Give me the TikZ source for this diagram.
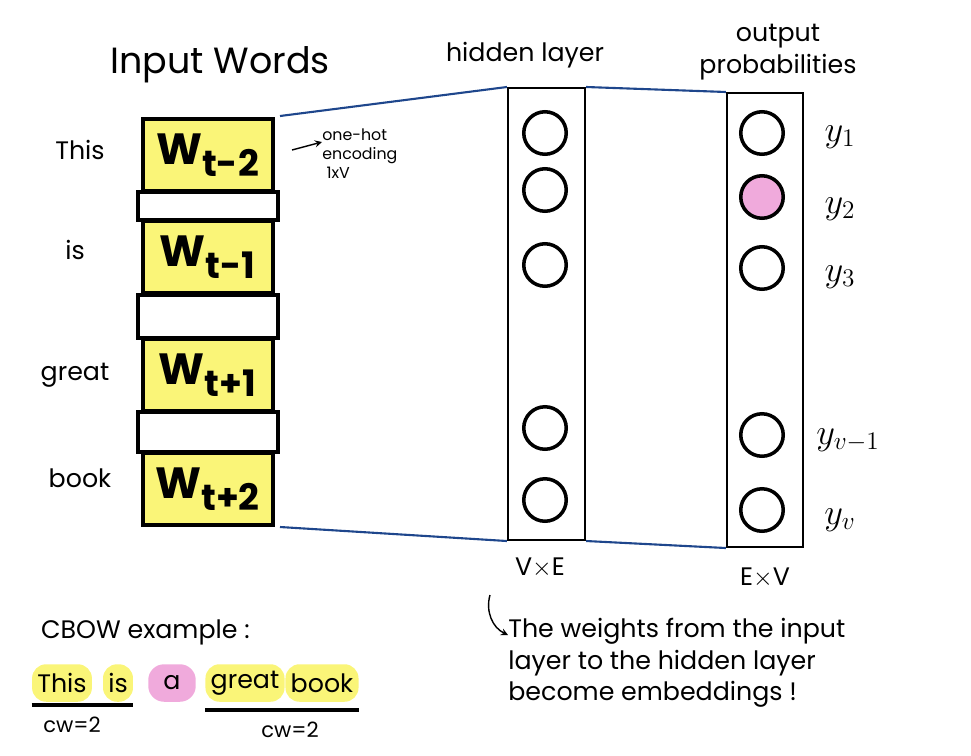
\documentclass[tikz,border=0pt]{standalone}
\usepackage{fontspec}
\setmainfont{Poppins}
\usetikzlibrary{arrows, positioning}
\definecolor{hlyellow}{RGB}{250,245,120}
\definecolor{hlpink}{RGB}{240,170,220}
\definecolor{linkblue}{RGB}{30,70,140}
\begin{document}
\begin{tikzpicture}[x=0.02cm, y=-0.02cm,
        word/.style={draw, line width=2.2pt, fill=hlyellow, minimum width=2.6cm, minimum height=1.45cm, font=\Huge\bfseries},
        unit/.style={circle, draw, line width=2pt, minimum size=0.85cm},
        layer/.style={draw, line width=1.2pt},
        link/.style={linkblue, line width=1.2pt},
        hl/.style={rounded corners=8pt, inner sep=3pt, minimum height=0.75cm, font=\Large}
    ]
        \useasboundingbox (0,0) rectangle (971,755);

        % Input words
        \node[font=\huge] (title) at (220,65) {Input Words};
        \node[word] (w1) at (208,155) {W\textsubscript{t-2}};
        \node[word] (w2) at (208,257) {W\textsubscript{t-1}};
        \node[word] (w3) at (208,375) {W\textsubscript{t+1}};
        \node[word] (w4) at (208,489) {W\textsubscript{t+2}};
        \draw[layer, line width=2.2pt] (138,192) rectangle (278,220);
        \draw[layer, line width=2.2pt] (138,295) rectangle (278,338);
        \draw[layer, line width=2.2pt] (138,412) rectangle (278,452);
        \node[font=\Large] (l1) at (80,150) {This};
        \node[font=\Large] (l2) at (75,250) {is};
        \node[font=\Large] (l3) at (75,375) {great};
        \node[font=\Large] (l4) at (80,478) {book};
        \coordinate (intop) at (280,116);
        \coordinate (inbot) at (280,527);

        % one-hot note
        \node[align=left, font=\small, anchor=north west, inner sep=0pt] (note) at (322,128) {one-hot\\encoding\\\ 1xV};
        \draw[->, >=stealth, thick] (292,150) -- (note.west |- 0,142);

        % Hidden layer
        \node[font=\Large] (hid) at (525,55) {hidden layer};
        \node[layer, minimum width=1.54cm, minimum height=9.04cm] (hbox) at (546.5,314) {};
        \foreach \i/\y in {1/133, 2/190, 3/265, 4/428, 5/500}
            \node[unit] (h\i) at (545,\y) {};
        \node[font=\Large] (hdim) at (540,568) {V$\times$E};

        % Output layer
        \node[font=\Large, align=center] (outt) at (778,52) {output\\probabilities};
        \node[layer, minimum width=1.52cm, minimum height=9.08cm] (obox) at (765,320) {};
        \foreach \i/\y/\c in {1/133/white, 2/197/hlpink, 3/268/white, 4/435/white, 5/510/white}
            \node[unit, fill=\c] (o\i) at (762,\y) {};
        \node[font=\huge] (y1) at (840,137) {$y_1$};
        \node[font=\huge] (y2) at (840,209) {$y_2$};
        \node[font=\huge] (y3) at (840,277) {$y_3$};
        \node[font=\huge] (y4) at (848,440) {$y_{v-1}$};
        \node[font=\huge] (y5) at (840,520) {$y_v$};
        \node[font=\Large] (odim) at (765,578) {E$\times$V};

        % Connections
        \draw[link] (intop) -- (hbox.north west);
        \draw[link] (inbot) -- (hbox.south west);
        \draw[link] (hbox.north east) -- (obox.north west);
        \draw[link] (hbox.south east) -- (obox.south west);

        % Embedding note
        \node[align=left, anchor=north west, font=\Large, inner sep=0pt] (emb) at (508,618) {The weights from the input\\layer to the hidden layer\\become embeddings !};
        \draw[->, >=stealth, thick] (490,595) to[bend right=40] (emb.west |- 0,635);

        % CBOW example
        \node[font=\Large, anchor=west] (cbow) at (35,632) {CBOW example :};
        \node[hl, fill=hlyellow] (e1) at (62,683) {This};
        \node[hl, fill=hlyellow] (e2) at (118,683) {is};
        \node[hl, fill=hlpink, minimum width=0.95cm, rounded corners=9pt] (e3) at (172,683) {a};
        \node[hl, fill=hlyellow] (e4) at (245,683) {great};
        \node[hl, fill=hlyellow] (e5) at (322,683) {book};
        \draw[line width=1.8pt] (e1.south west |- 0,705) -- (e2.south east |- 0,705);
        \draw[line width=1.8pt] (e4.south west |- 0,710) -- (e5.south east |- 0,710);
        \node[font=\large] (c1) at (72,725) {cw=2};
        \node[font=\large] (c2) at (290,730) {cw=2};
    \end{tikzpicture}
\end{document}
